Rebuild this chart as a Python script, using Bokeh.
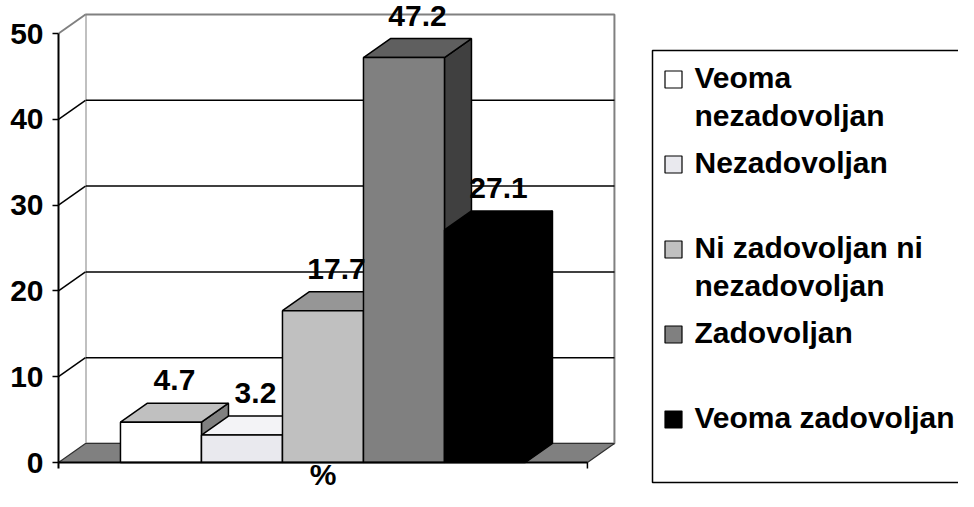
from bokeh.plotting import figure
from bokeh.models import Range1d, FixedTicker
from bokeh.core.properties import value
from bokeh.embed import file_html
from bokeh.resources import INLINE

# ---------------- data ----------------
categories = ["Veoma\nnezadovoljan", "Nezadovoljan", "Ni zadovoljan ni\nnezadovoljan",
              "Zadovoljan", "Veoma zadovoljan"]
percent = [4.7, 3.2, 17.7, 47.2, 27.1]
y_ticks = [0, 10, 20, 30, 40, 50]
x_label = "%"

# ---------------- styles ----------------
front_colors = ["#ffffff", "#e9e9ee", "#c0c0c0", "#808080", "#000000"]
top_colors = ["#c0c0c0", "#f3f3f6", "#969696", "#5f5f5f", "#000000"]
side_colors = ["#808080", "#b4b4b4", "#707070", "#404040", "#000000"]
FONT = "Liberation Sans"
FS = "30px"

# layout: canvas pixel geometry -> data units
W, H = 958, 491
SX = 81.0          # px per bar width
SY = 8.58          # px per percent
X0_PX, Y0_PX = 58, 462   # canvas position of origin (front plane)


def ix(x_px):
    return (x_px - X0_PX) / SX


def iy(y_px):
    return (Y0_PX - y_px) / SY


gap = 0.765
floor_w = len(percent) + 2 * gap
dx = 27 / SX
dy = 19 / SY
ymax = max(y_ticks)

p = figure(width=W, height=H, output_backend="svg", toolbar_location=None,
           x_range=Range1d(ix(X0_PX), ix(W)), y_range=Range1d(iy(H), iy(0)),
           x_axis_location=None, min_border_left=X0_PX, min_border_right=0,
           min_border_top=0, min_border_bottom=0)
p.outline_line_color = None
p.grid.visible = False
p.background_fill_color = "white"

# y axis
ax = p.yaxis[0]
ax.ticker = FixedTicker(ticks=y_ticks)
ax.bounds = (-0.7, ymax)
ax.axis_line_color = "black"
ax.axis_line_width = 2
ax.major_tick_out = 6
ax.major_tick_in = 0
ax.major_tick_line_width = 1.5
ax.minor_tick_line_color = None
ax.major_label_text_font = FONT
ax.major_label_text_font_style = "bold"
ax.major_label_text_font_size = FS
ax.major_label_text_color = "black"
ax.major_label_standoff = 9

# back wall
p.quad(left=dx, right=floor_w + dx, bottom=dy, top=ymax + dy,
       fill_color="white", line_color="#808080", line_width=2)
inner = [t for t in y_ticks if 0 < t < ymax]
p.segment(x0=[dx] * len(inner), y0=[t + dy for t in inner],
          x1=[floor_w + dx] * len(inner), y1=[t + dy for t in inner],
          line_color="black", line_width=1.5)
# side wall
p.patch([0, dx, dx, 0], [0, dy, ymax + dy, ymax], fill_color="white", line_color=None)
p.segment(x0=[0] * len(inner), y0=inner, x1=[dx] * len(inner), y1=[t + dy for t in inner],
          line_color="black", line_width=1.5)
p.segment(x0=[0], y0=[ymax], x1=[dx], y1=[ymax + dy], line_color="#808080", line_width=2)
# floor
p.patch([0, floor_w, floor_w + dx, dx], [0, 0, dy, dy], fill_color="#808080",
        line_color="#303030", line_width=1.2)

# bars (drawn left to right)
for i, v in enumerate(percent):
    x0 = gap + i
    x1 = x0 + 1
    p.patches(xs=[[x1, x1 + dx, x1 + dx, x1], [x0, x1, x1 + dx, x0 + dx]],
              ys=[[0, dy, v + dy, v], [v, v, v + dy, v + dy]],
              fill_color=[side_colors[i], top_colors[i]], line_color="black", line_width=1.5)
    p.quad(left=[x0], right=[x1], bottom=[0], top=[v], fill_color=front_colors[i],
           line_color="black", line_width=1.5)

# x axis line + end tick
p.segment(x0=[0], y0=[0], x1=[floor_w], y1=[0], line_color="black", line_width=2)
p.segment(x0=[floor_w], y0=[0], x1=[floor_w], y1=[-6 / SY], line_color="black", line_width=1.5)

# data labels
lab_off = 42 / SY
p.text(x=[gap + i + 0.5 + dx / 2 for i in range(len(percent))],
       y=[v + lab_off for v in percent],
       text=[f"{v:.1f}" for v in percent],
       text_font=value(FONT), text_font_style="bold", text_font_size=FS,
       text_color="black", text_align="center", text_baseline="alphabetic")

# axis title
p.text(x=[floor_w / 2], y=[iy(474)], text=[x_label], text_font=value(FONT),
       text_font_style="bold", text_font_size=FS, text_color="black",
       text_align="center", text_baseline="alphabetic")

# legend (manual): box open on the right, as in the reference
bl, bt, bb, br = ix(652), iy(50), iy(482), ix(W + 20)
p.multi_line(xs=[[br, bl, bl, br]], ys=[[bt, bt, bb, bb]], line_color="black", line_width=1.5)
step = 85
first = 79
line_gap = 38
sq_y = [iy(first + step * i) for i in range(len(categories))]
p.rect(x=[ix(673)] * len(categories), y=sq_y, width=17, height=17,
       width_units="screen", height_units="screen",
       fill_color=front_colors, line_color="black", line_width=1.2)
tx, ty, tt = [], [], []
for i, c in enumerate(categories):
    for k, line in enumerate(c.split("\n")):
        tx.append(ix(694))
        ty.append(iy(first - 2 + step * i + line_gap * k))
        tt.append(line)
p.text(x=tx, y=ty, text=tt, text_font=value(FONT), text_font_style="bold",
       text_font_size=FS, text_color="black", text_align="left", text_baseline="middle")

open("out.html", "w").write(file_html(p, INLINE))
